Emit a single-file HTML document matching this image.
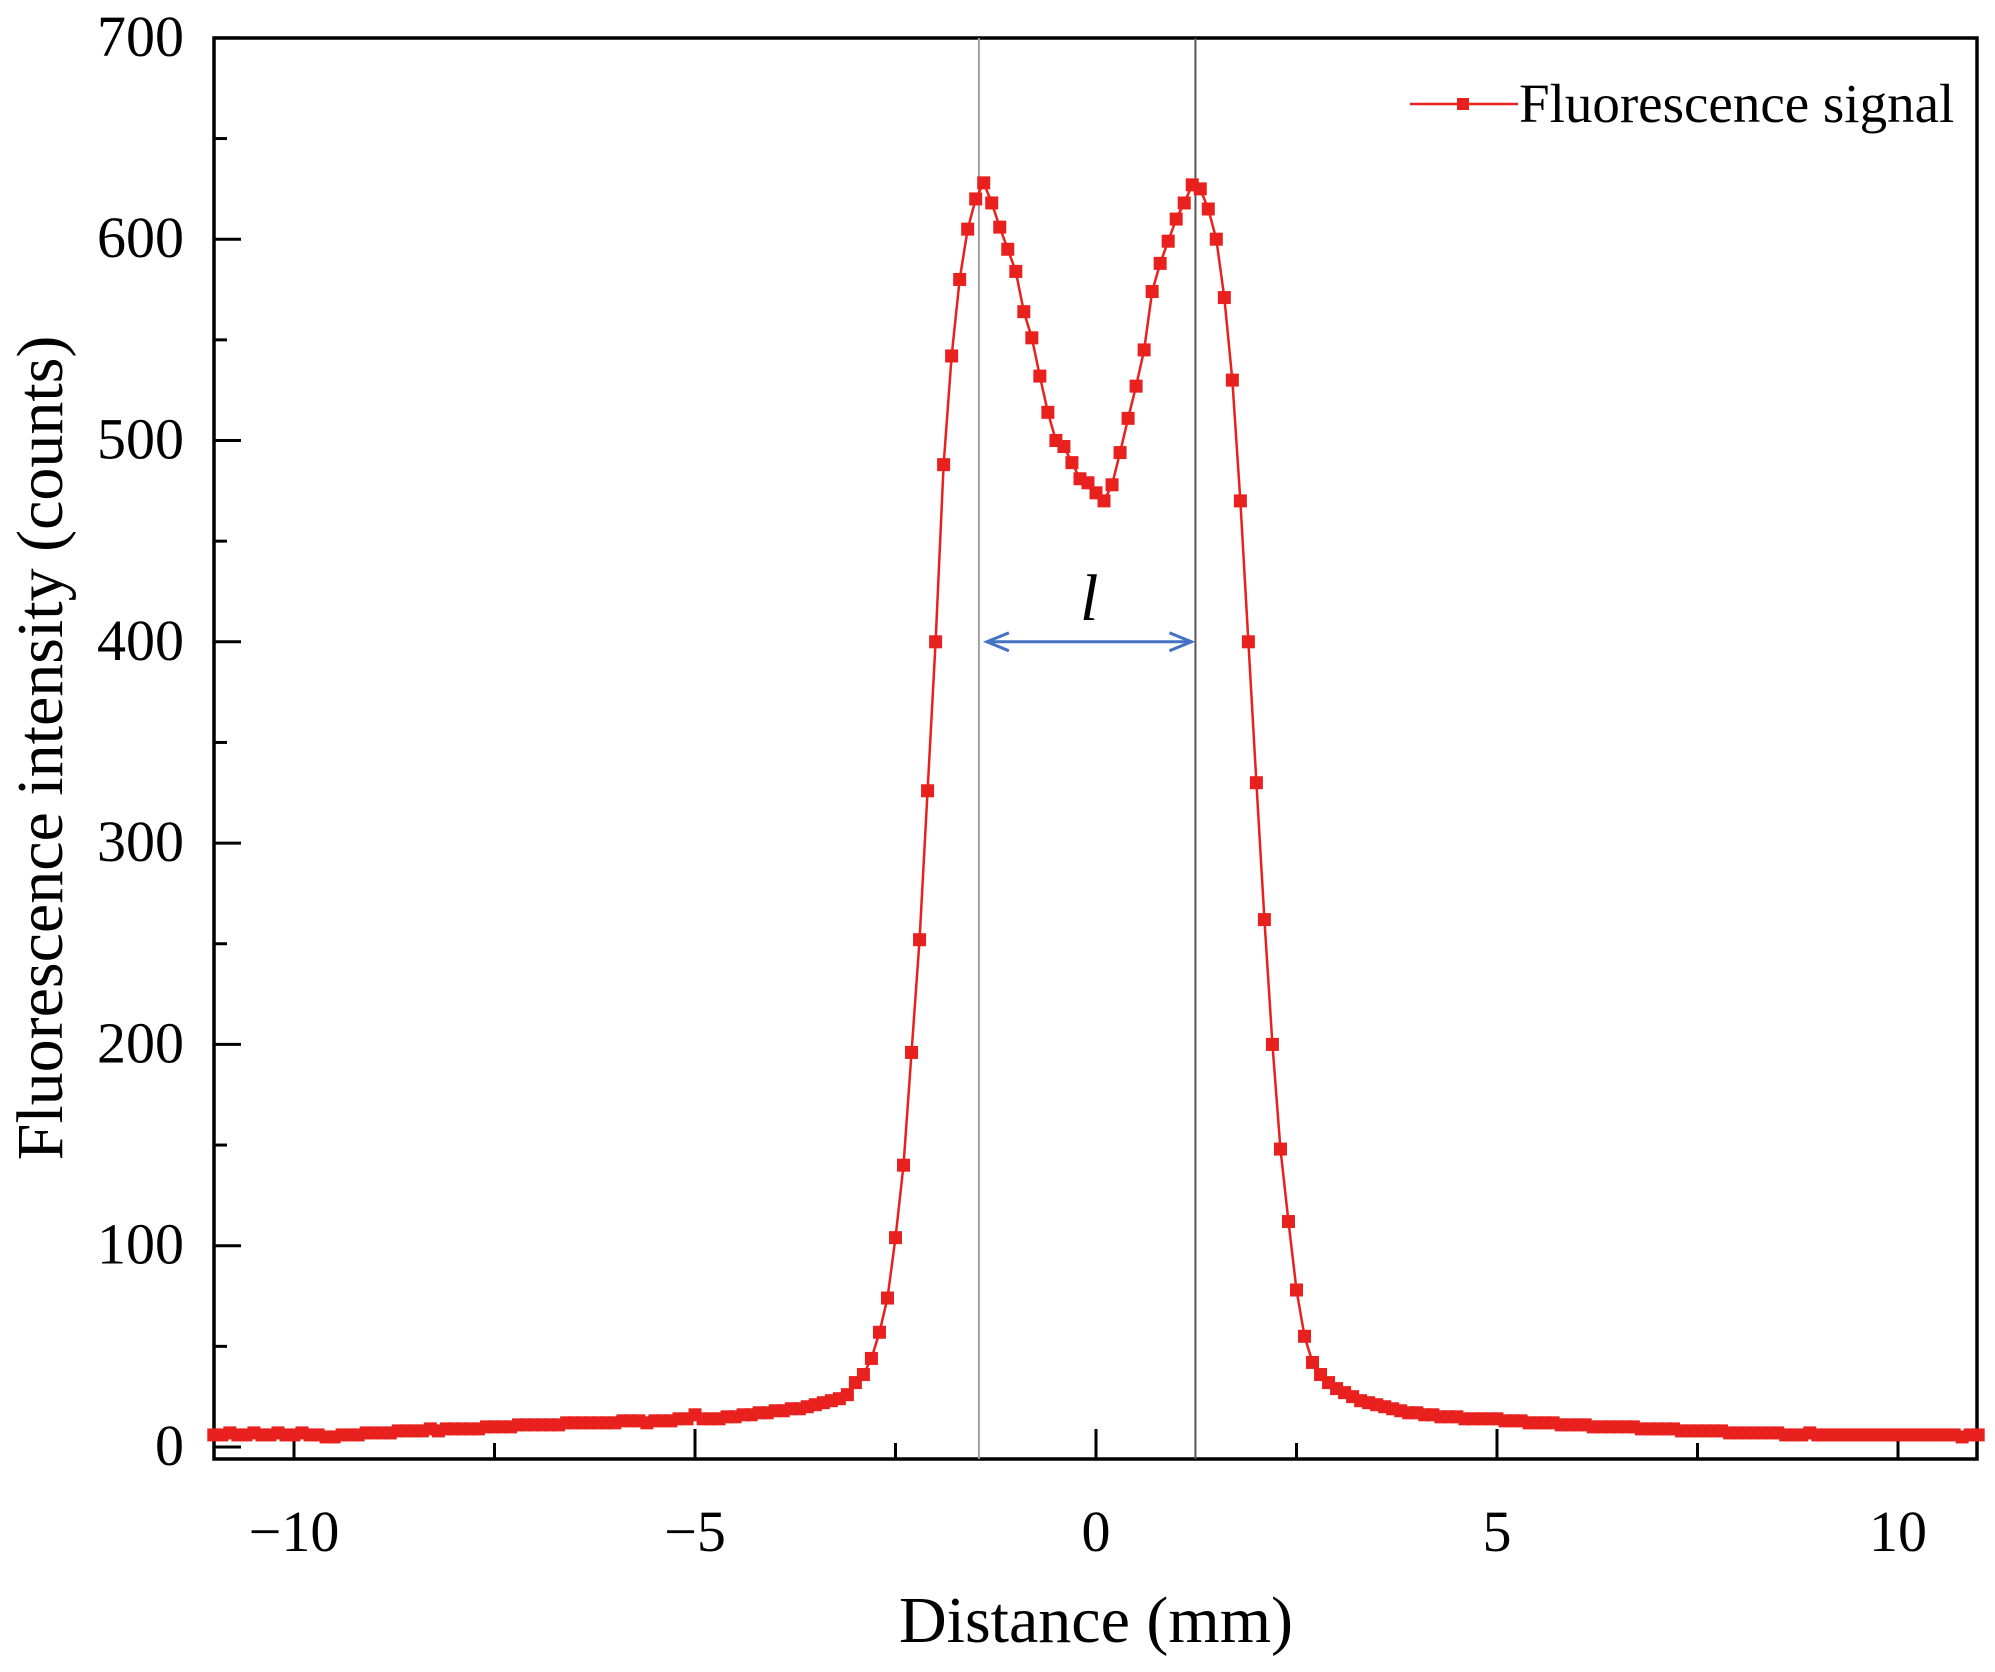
<!DOCTYPE html>
<html><head><meta charset="utf-8"><style>
html,body{margin:0;padding:0;background:#fff;}
svg{display:block;}
text{font-family:"Liberation Serif",serif;fill:#000;}
</style></head><body>
<svg id="chart" width="1995" height="1672" viewBox="0 0 1995 1672">
<g id="axes"></g>
<g id="plot"></g>
<text x="1096" y="1642" font-size="66" text-anchor="middle">Distance (mm)</text>
<text transform="translate(62,748) rotate(-90)" font-size="66" text-anchor="middle">Fluorescence intensity (counts)</text>
<g>
<line x1="1410" y1="104" x2="1518" y2="104" stroke="#e8201e" stroke-width="2.5"/>
<rect x="1457" y="98" width="12" height="12" fill="#e8201e"/>
<text x="1519" y="122" font-size="55">Fluorescence signal</text>
</g>
</svg>
<script>
const xStart = -11.0;
const xStep = 0.1;
const intensity = [
6,6,7,6,6,7,6,6,7,6,
6,7,6,6,5,5,6,6,6,7,
7,7,7,8,8,8,8,9,8,9,
9,9,9,9,10,10,10,10,11,11,
11,11,11,11,12,12,12,12,12,12,
12,13,13,13,12,13,13,13,14,14,
16,14,14,14,15,15,16,16,17,17,
18,18,19,19,20,21,22,23,24,26,
32,36,44,57,74,104,140,196,252,326,
400,488,542,580,605,620,628,618,606,595,
584,564,551,532,514,500,497,489,481,479,
474,470,478,494,511,527,545,574,588,599,
610,618,627,625,615,600,571,530,470,400,
330,262,200,148,112,78,55,42,36,32,
29,
27,25,23,22,21,20,19,18,17,
17,16,16,15,15,15,14,14,14,14,
14,13,13,13,12,12,12,12,11,11,
11,11,10,10,10,10,10,10,9,9,
9,9,9,8,8,8,8,8,8,7,
7,7,7,7,7,7,6,6,6,7,
6,6,6,6,6,6,6,6,6,6,
6,6,6,6,6,6,6,6,5,6,
6
];
const xTicksMajor = [-10,-5,0,5,10];
const xTickLabels = ["\u221210","\u22125","0","5","10"];
const xTicksMinor = [-7.5,-2.5,2.5,7.5];
const yTicksMajor = [0,100,200,300,400,500,600,700];
const yTickLabels = ["0","100","200","300","400","500","600","700"];
const yTicksMinor = [50,150,250,350,450,550,650];
const markerLines = [-1.46, 1.24];
const arrowLevel = 400;

const L=214,R=1977,T=38,B=1459;
const X0=1096,XS=80.2,Y0=1447,YS=2.013;
const sx=v=>X0+v*XS, sy=v=>Y0-v*YS;
const NS="http://www.w3.org/2000/svg";
function mk(tag,attrs,parent){const e=document.createElementNS(NS,tag);for(const k in attrs)e.setAttribute(k,attrs[k]);parent.appendChild(e);return e;}
const axes=document.getElementById('axes'), plot=document.getElementById('plot');

markerLines.forEach((m,i)=>{
  const ln=mk('line',{x1:sx(m),x2:sx(m),y1:T,y2:B,stroke:i===0?'#a0a0a0':'#555','stroke-width':2},plot);
  
  
});
const ay=sy(arrowLevel), ax1=sx(markerLines[0])+8, ax2=sx(markerLines[1])-4;
const ag=mk('g',{stroke:'#4472c4','stroke-width':3,fill:'none'},plot);


mk('line',{x1:ax1,y1:ay,x2:ax2,y2:ay},ag);
mk('polyline',{points:`${ax1+22},${ay-9} ${ax1},${ay} ${ax1+22},${ay+9}`},ag);
mk('polyline',{points:`${ax2-22},${ay-9} ${ax2},${ay} ${ax2-22},${ay+9}`},ag);
const lt=mk('text',{x:(ax1+ax2)/2,y:ay-22,'font-size':66,'font-style':'italic','text-anchor':'middle'},plot);
lt.textContent='l';



const pts=intensity.map((v,i)=>[sx(xStart+i*xStep),sy(v)]);
const pl=mk('polyline',{points:pts.map(p=>p.join(',')).join(' '),fill:'none',stroke:'#e8201e','stroke-width':2.5},plot);


pts.forEach(p=>{
  const r=mk('rect',{x:p[0]-6.5,y:p[1]-6.5,width:13,height:13,fill:'#e8201e'},plot);
  
  
});

const fr=mk('rect',{x:L,y:T,width:R-L,height:B-T,fill:'none',stroke:'#000','stroke-width':3.5},axes);


xTicksMajor.forEach((t,i)=>{
  const ln=mk('line',{x1:sx(t),x2:sx(t),y1:B,y2:B-30,stroke:'#000','stroke-width':3},axes);
  
  
  const tx=mk('text',{x:sx(t),y:1551,'font-size':58,'text-anchor':'middle'},axes);
  tx.textContent=xTickLabels[i];
  
  
});
xTicksMinor.forEach(t=>{
  const ln=mk('line',{x1:sx(t),x2:sx(t),y1:B,y2:B-16,stroke:'#000','stroke-width':3},axes);
  
  
});
yTicksMajor.forEach((t,i)=>{
  const ln=mk('line',{x1:L,x2:L+27,y1:sy(t),y2:sy(t),stroke:'#000','stroke-width':3},axes);
  
  
  const tx=mk('text',{x:184,y:sy(t)+18,'font-size':58,'text-anchor':'end'},axes);
  tx.textContent=yTickLabels[i];
  
  
});
yTicksMinor.forEach(t=>{
  const ln=mk('line',{x1:L,x2:L+13,y1:sy(t),y2:sy(t),stroke:'#000','stroke-width':3},axes);
  
  
});
</script>
</body></html>
